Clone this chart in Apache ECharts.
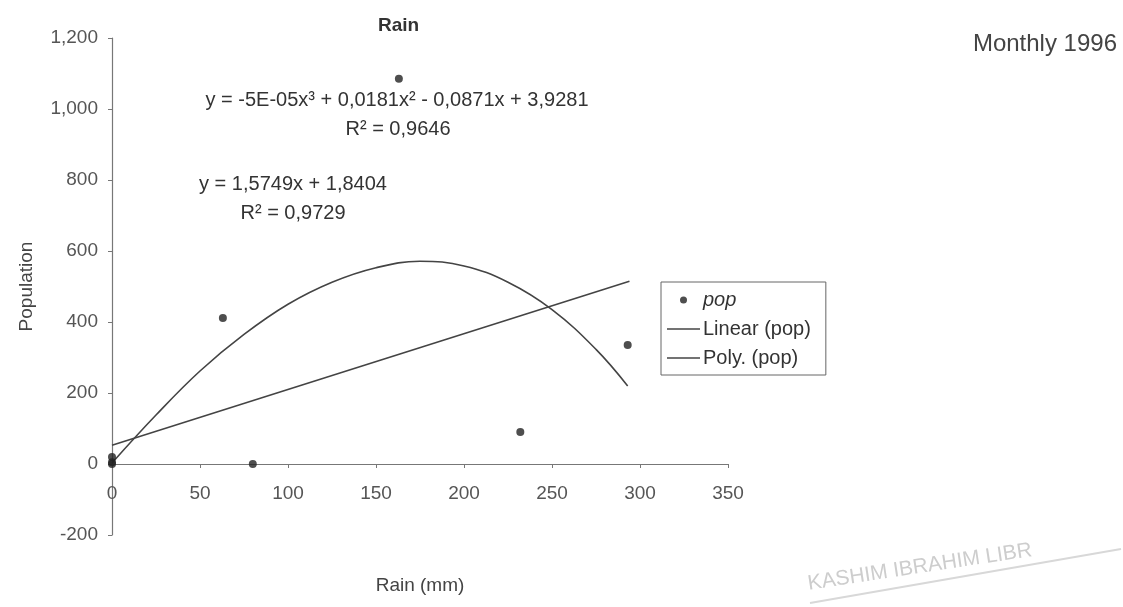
<!DOCTYPE html>
<html><head><meta charset="utf-8">
<script src="https://cdn.jsdelivr.net/npm/echarts@6/dist/echarts.min.js"></script>
<style>html,body{margin:0;padding:0;background:#fff}#c{width:1123px;height:607px}</style>
</head><body><div id="c"></div>
<script>
// Data
const rainMM     = [0, 0, 0, 63, 80, 163, 232, 293];
const population = [0, 5, 20, 411, 0, 1085, 90, 335];
const linearX = [0, 294];
const linearY = [53, 515];
const polyX = [0, 25, 50, 75, 100, 125, 150, 175, 200, 225, 250, 275, 293];
const polyY = [3, 138, 262, 365, 450, 512, 553, 571, 558, 512, 435, 323, 220];
const xAxisRange = [0, 350, 50];
const yAxisRange = [-200, 1200, 200];
const seriesNames = ['pop', 'Linear (pop)', 'Poly. (pop)'];
const polyEquation = 'y = -5E-05x\u00B3 + 0,0181x\u00B2 - 0,0871x + 3,9281';
const polyR2 = 'R\u00B2 = 0,9646';
const linEquation = 'y = 1,5749x + 1,8404';
const linR2 = 'R\u00B2 = 0,9729';

const zip = (a, b) => a.map((v, i) => [v, b[i]]);
const FONT = '"Liberation Sans", Arial, sans-serif';
const chart = echarts.init(document.getElementById('c'), null, {renderer: 'canvas'});
const lineColor = '#444';
const lineIcon = 'path://M0,0h33v1.6h-33z';

// grid geometry: y from -200 (bottom) to 1200 (top); x axis is drawn at y = 0
const gridTop = 38, gridBottom = 72, chartH = 607;
const plotH = chartH - gridTop - gridBottom;
const zeroOffset = -plotH * (0 - yAxisRange[0]) / (yAxisRange[1] - yAxisRange[0]);

chart.setOption({
  backgroundColor: '#fff',
  animation: false,
  textStyle: {fontFamily: FONT},
  title: [
    {text: 'Rain', left: 378, top: 16, padding: 0,
     textStyle: {fontSize: 19, fontWeight: 'bold', color: '#333', fontFamily: FONT}},
    {text: 'Monthly 1996', right: 6, top: 32, padding: 0,
     textStyle: {fontSize: 24, fontWeight: 'normal', color: '#444', fontFamily: FONT}}
  ],
  grid: {left: 112, right: 395, top: gridTop, bottom: gridBottom, containLabel: false, outerBoundsMode: 'none'},
  xAxis: {
    type: 'value', min: xAxisRange[0], max: xAxisRange[1], interval: xAxisRange[2],
    offset: zeroOffset,
    name: 'Rain (mm)', nameLocation: 'middle', nameGap: 112,
    nameTextStyle: {fontSize: 19, color: '#444', fontFamily: FONT},
    axisLine: {show: true, onZero: false, lineStyle: {color: '#777', width: 1.2}},
    axisTick: {show: true, length: 4, lineStyle: {color: '#777'}},
    axisLabel: {fontSize: 19, color: '#555', margin: 20, fontFamily: FONT},
    splitLine: {show: false}
  },
  yAxis: {
    type: 'value', min: yAxisRange[0], max: yAxisRange[1], interval: yAxisRange[2],
    name: 'Population', nameLocation: 'middle', nameGap: 76,
    nameTextStyle: {fontSize: 19, color: '#444', fontFamily: FONT},
    axisLine: {show: true, onZero: false, lineStyle: {color: '#777', width: 1.2}},
    axisTick: {show: true, length: 4, lineStyle: {color: '#777'}},
    axisLabel: {fontSize: 19, color: '#555', margin: 14, fontFamily: FONT,
      formatter: v => v.toLocaleString('en-US')},
    splitLine: {show: false}
  },
  legend: {
    orient: 'vertical', left: 661, top: 282,
    data: [
      {name: seriesNames[0], icon: 'circle'},
      {name: seriesNames[1], icon: lineIcon},
      {name: seriesNames[2], icon: lineIcon}
    ],
    itemWidth: 33, itemHeight: 7, itemGap: 9,
    padding: [8, 15, 7, 6],
    borderColor: '#666', borderWidth: 1,
    textStyle: {fontSize: 20, color: '#333', fontFamily: FONT, padding: [0, 0, 0, -2],
      rich: {i: {fontStyle: 'italic', fontSize: 20, color: '#333', fontFamily: FONT}}},
    formatter: n => n === 'pop' ? '{i|' + n + '}' : n,
    selectedMode: false
  },
  series: [
    {name: seriesNames[0], type: 'scatter', data: zip(rainMM, population),
     symbol: 'circle', symbolSize: 8, itemStyle: {color: '#222'}, z: 5},
    {name: seriesNames[1], type: 'line', data: zip(linearX, linearY),
     symbol: 'none', showSymbol: false, lineStyle: {color: lineColor, width: 1.6}, itemStyle: {color: lineColor}},
    {name: seriesNames[2], type: 'line', data: zip(polyX, polyY), smooth: 0.4,
     symbol: 'none', showSymbol: false, lineStyle: {color: lineColor, width: 1.6}, itemStyle: {color: lineColor}}
  ],
  graphic: [
    {type: 'text', x: 397, y: 100, style: {text: polyEquation, font: '20px ' + FONT, fill: '#333', align: 'center', verticalAlign: 'middle'}},
    {type: 'text', x: 398, y: 129, style: {text: polyR2, font: '20px ' + FONT, fill: '#333', align: 'center', verticalAlign: 'middle'}},
    {type: 'text', x: 293, y: 184, style: {text: linEquation, font: '20px ' + FONT, fill: '#333', align: 'center', verticalAlign: 'middle'}},
    {type: 'text', x: 293, y: 213, style: {text: linR2, font: '20px ' + FONT, fill: '#333', align: 'center', verticalAlign: 'middle'}},
    {type: 'text', x: 808, y: 584, rotation: 0.15, style: {text: 'KASHIM IBRAHIM LIBR', font: '21px ' + FONT, fill: '#cdcdcd', align: 'left', verticalAlign: 'middle'}},
    {type: 'line', shape: {x1: 810, y1: 603, x2: 1121, y2: 549}, style: {stroke: '#d8d8d8', lineWidth: 2}}
  ]
});
</script>
</body></html>
